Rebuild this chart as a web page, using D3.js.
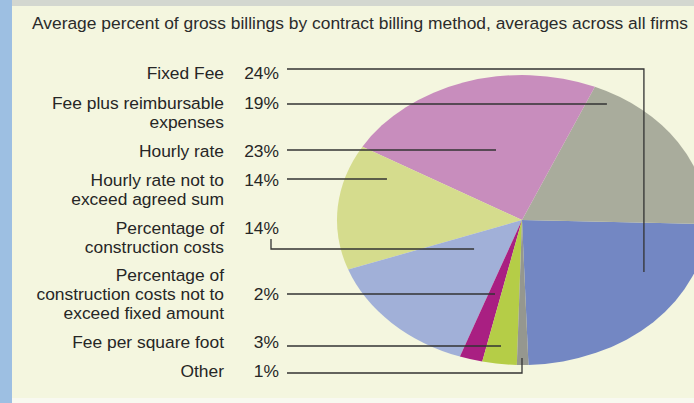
<!DOCTYPE html>
<html>
<head>
<meta charset="utf-8">
<script src="https://cdn.jsdelivr.net/npm/d3@7"></script>
<style>
  html, body { margin: 0; padding: 0; background: #f4f6df; }
  svg { display: block; font-family: "Liberation Sans", Arial, sans-serif; }
</style>
</head>
<body>
<svg id="chart" width="694" height="403"></svg>
<script>
// Chart data, in the order of the printed legend
var title = "Average percent of gross billings by contract billing method, averages across all firms";
var categories = [
  "Fixed Fee",
  "Fee plus reimbursable expenses",
  "Hourly rate",
  "Hourly rate not to exceed agreed sum",
  "Percentage of construction costs",
  "Percentage of construction costs not to exceed fixed amount",
  "Fee per square foot",
  "Other"
];
var values = [24, 19, 23, 14, 14, 2, 3, 1];
// how each label breaks into lines on the page
var labelLines = [
  ["Fixed Fee"],
  ["Fee plus reimbursable", "expenses"],
  ["Hourly rate"],
  ["Hourly rate not to", "exceed agreed sum"],
  ["Percentage of", "construction costs"],
  ["Percentage of", "construction costs not to", "exceed fixed amount"],
  ["Fee per square foot"],
  ["Other"]
];

// Layout / styling
var W = 694, H = 403;
var colors = ["#7387c3", "#a9ac9c", "#c88dbd", "#d5dc8d", "#a1b0d8", "#a91f82", "#b5cd47", "#95978f"];
var rowY    = [79, 109, 157, 186, 234, 281, 348, 377]; // baseline of first label line
var pctRow  = [0, 0, 0, 0, 0, 1, 0, 0];                  // label line the percent sits on
var lineH   = 19;
var leaderY = [69, 104, 150, 179, null, 294, 346, 373];  // null = drops from under the percent
// where each leader ends, in pie units (-1..1 across the ellipse)
var leaderTo = [[0.659, 0.359], [0.459, -0.8], [-0.1405, -0.483], [-0.73, -0.283],
                [-0.259, 0.2], [-0.146, 0.51], [-0.1135, 0.869], [0, 0.952]];

var labelRight = 224, pctRight = 279, leaderStart = 287;
var cx = 522, cy = 220, rx = 185, ry = 145;
var fontSize = 17.4;

var svg = d3.select('#chart');

// Page background and border strips
svg.append('rect').attr('width', W).attr('height', H).attr('fill', '#f4f6df');
svg.append('rect').attr('width', W).attr('height', 6).attr('fill', '#d3d7d0');
svg.append('rect').attr('y', 398).attr('width', W).attr('height', 5).attr('fill', '#f8f9f0');
svg.append('rect').attr('width', 12).attr('height', H).attr('fill', '#9dbfe2');

svg.append('text')
  .attr('x', 32).attr('y', 29)
  .attr('font-size', fontSize).attr('fill', '#2b2b2b')
  .text(title);

// Pie: drawn as a circle then flattened into an ellipse.
// Fixed Fee ends just before 6 o'clock and the slices run counter-clockwise.
var start = 178 * Math.PI / 180;
var pie = d3.pie().sort(null).value((d) => d)
  .startAngle(start).endAngle(start - 2 * Math.PI);
var arc = d3.arc().innerRadius(0).outerRadius(rx);

var pieG = svg.append('g')
  .attr('transform', `translate(${cx}, ${cy}) scale(1, ${ry / rx})`);
pieG.selectAll('path')
  .data(pie(values))
  .enter().append('path')
  .attr('d', arc)
  .attr('fill', (d, i) => colors[i]);

// Labels and percents
var rows = svg.append('g').attr('fill', '#262626').attr('font-size', fontSize);
categories.forEach(function(c, i) {
  labelLines[i].forEach(function(line, j) {
    rows.append('text')
      .attr('x', labelRight).attr('y', rowY[i] + j * lineH)
      .attr('text-anchor', 'end')
      .text(line);
  });
  rows.append('text')
    .attr('x', pctRight).attr('y', rowY[i] + pctRow[i] * lineH)
    .attr('text-anchor', 'end')
    .text(values[i] + '%');
});

// Leader lines
var leaders = svg.append('g')
  .attr('fill', 'none').attr('stroke', '#333').attr('stroke-width', 1.3);
categories.forEach(function(c, i) {
  var tx = cx + leaderTo[i][0] * rx;
  var ty = cy + leaderTo[i][1] * ry;
  var p = d3.path();
  if (leaderY[i] === null) {
    p.moveTo(271, rowY[i] + 5);
    p.lineTo(271, ty);
    p.lineTo(tx, ty);
  } else {
    p.moveTo(leaderStart, leaderY[i]);
    p.lineTo(tx, leaderY[i]);
    if (Math.abs(ty - leaderY[i]) > 2) p.lineTo(tx, ty);
  }
  leaders.append('path').attr('d', p.toString());
});
</script>
</body>
</html>
